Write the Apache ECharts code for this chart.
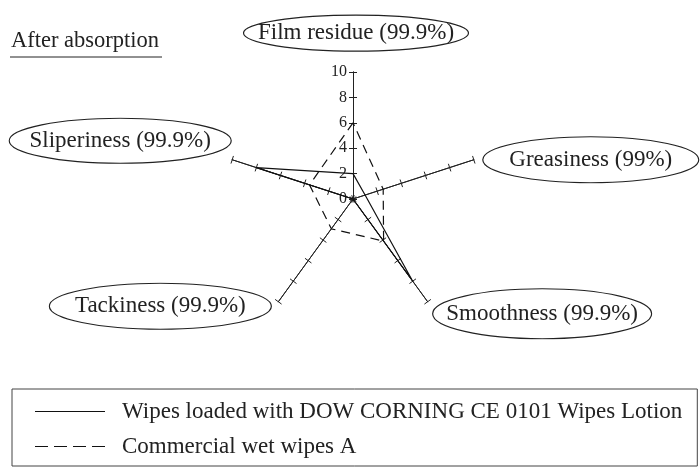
<!DOCTYPE html>
<html>
<head>
<meta charset="utf-8">
<script src="https://cdn.jsdelivr.net/npm/echarts@6/dist/echarts.min.js"></script>
<style>
  html, body { margin: 0; padding: 0; background: #fff; }
  #chart { width: 700px; height: 470px; }
</style>
</head>
<body>
<div id="chart"></div>
<script>
// radar goes counter-clockwise from the top
const indicators = ['Film residue (99.9%)', 'Sliperiness (99.9%)', 'Tackiness (99.9%)', 'Smoothness (99.9%)', 'Greasiness (99%)']
const axisMax = 10
const seriesNames = ['Wipes loaded with DOW CORNING CE 0101 Wipes Lotion', 'Commercial wet wipes A']
const wipesLotion = [2, 8, 0, 8, 1]
const commercialA = [6, 3.6, 2.9, 4.1, 2.5]

const serif = '"Liberation Serif", "DejaVu Serif", serif'
const ink = '#222'

function ellipseImage(w, h) {
  const svg = '<svg xmlns="http://www.w3.org/2000/svg" width="' + w + '" height="' + h + '" viewBox="0 0 ' + w + ' ' + h + '">' +
    '<ellipse cx="' + w / 2 + '" cy="' + h / 2 + '" rx="' + (w / 2 - 1) + '" ry="' + (h / 2 - 1) + '" fill="#fff" stroke="#222" stroke-width="1.2"/></svg>'
  return 'data:image/svg+xml;charset=utf-8,' + encodeURIComponent(svg)
}

// label bubble per axis: [width, height, lead, trail, above, below]
const bubbles = [
  [227, 38, 6, 0, 0, 12],
  [224, 47, 0, 0, 0, 38],
  [224, 48, 0, 6, 9, 0],
  [221, 52, 4, 0, 24, 0],
  [218, 48, 8, 0, 0, 0],
]

const rich = {}
bubbles.forEach((b, i) => {
  rich['e' + i] = {
    width: b[0], height: b[1], lineHeight: b[1], align: 'center',
    fontFamily: serif, fontSize: 23, color: ink,
    backgroundColor: { image: ellipseImage(b[0], b[1]) },
  }
  rich['l' + i] = { width: b[2], fontSize: 1, lineHeight: 1, align: 'center' }
  rich['t' + i] = { width: b[3], fontSize: 1, lineHeight: 1, align: 'center' }
  rich['a' + i] = { width: 1, fontSize: 1, height: b[4], lineHeight: b[4], align: 'center' }
  rich['b' + i] = { width: 1, fontSize: 1, height: b[5], lineHeight: b[5], align: 'center' }
})

function bubbleName(name) {
  const i = indicators.indexOf(name)
  const b = bubbles[i]
  let s = ''
  if (b[4]) s += '{a' + i + '|\u00a0}\n'
  if (b[2]) s += '{l' + i + '|\u00a0}'
  s += '{e' + i + '|' + name + '}'
  if (b[3]) s += '{t' + i + '|\u00a0}'
  if (b[5]) s += '\n{b' + i + '|\u00a0}'
  return s
}

const chart = echarts.init(document.getElementById('chart'))

const baseRadar = {
  center: [353, 199],
  radius: 127,
  startAngle: 90,
  splitNumber: 5,
  shape: 'polygon',
  nameGap: 0,
  axisLine: { lineStyle: { color: ink, width: 1 } },
  splitLine: { show: false },
  splitArea: { show: false },
}

chart.setOption({
  animation: false,
  title: {
    text: 'After absorption',
    left: 11,
    top: 30,
    padding: 0,
    textStyle: { fontFamily: serif, fontSize: 22.5, fontWeight: 'normal', color: ink },
  },
  graphic: [
    { type: 'line', shape: { x1: 10, y1: 57, x2: 162, y2: 57 }, style: { stroke: ink, lineWidth: 1 } },
  ],
  legend: {
    orient: 'vertical',
    left: 12,
    top: 389,
    padding: [11, 15, 8, 23],
    borderColor: '#444',
    borderWidth: 1,
    itemWidth: 70,
    itemHeight: 1.2,
    itemGap: 12,
    itemStyle: { borderWidth: 0 },
    textStyle: { fontFamily: serif, fontSize: 23, color: ink, padding: [0, 0, 0, 12] },
    data: [
      { name: seriesNames[0], icon: 'path://M0,0H70V1H0Z' },
      { name: seriesNames[1], icon: 'path://M0,0H13V1H0Z M19,0H32V1H19Z M38,0H51V1H38Z M57,0H70V1H57Z' },
    ],
  },
  radar: [
    Object.assign({}, baseRadar, {
      indicator: indicators.map((name, i) => {
        const ind = { name: name, min: 0, max: axisMax }
        if (i === 0) ind.axisLabel = { show: true }
        return ind
      }),
      axisName: { formatter: bubbleName, rich: rich },
      axisTick: { show: true, length: 4, lineStyle: { color: ink } },
      axisLabel: { show: false, fontFamily: serif, fontSize: 16, color: ink, margin: 6 },
    }),
    // second copy only for the other half of the cross ticks
    Object.assign({}, baseRadar, {
      indicator: indicators.map(name => ({ name: name, min: 0, max: axisMax })),
      axisName: { show: false },
      axisTick: { show: true, length: -4, lineStyle: { color: ink } },
      axisLabel: { show: false },
    }),
  ],
  series: [
    {
      type: 'radar',
      radarIndex: 0,
      symbol: 'none',
      lineStyle: { color: '#111', width: 1.2 },
      itemStyle: { color: '#111' },
      data: [{ name: seriesNames[0], value: wipesLotion }],
    },
    {
      type: 'radar',
      radarIndex: 0,
      symbol: 'none',
      lineStyle: { color: '#111', width: 1.2, type: [9, 6] },
      itemStyle: { color: '#111' },
      data: [{ name: seriesNames[1], value: commercialA }],
    },
  ],
})
</script>
</body>
</html>
